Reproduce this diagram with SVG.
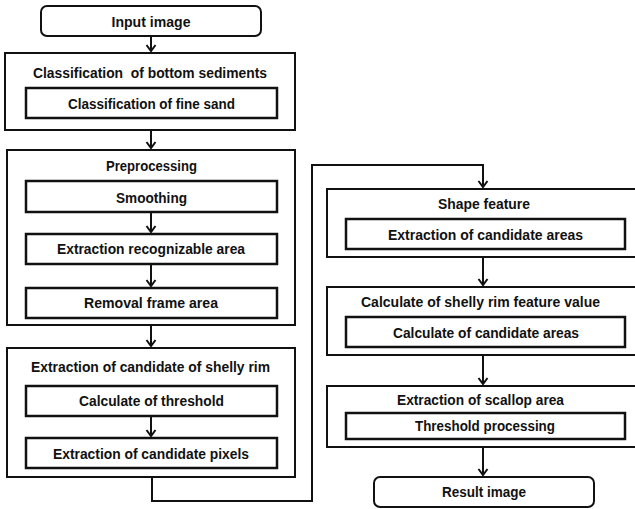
<svg xmlns="http://www.w3.org/2000/svg" width="635" height="509" viewBox="0 0 635 509">
<style>
.box{fill:#fff;stroke:#111;stroke-width:2}
.inner{fill:#fff;stroke:#111;stroke-width:2.5}
.t{font-family:"Liberation Sans",Arial,sans-serif;font-weight:bold;font-size:14.5px;fill:#111;text-anchor:middle}
.ln{fill:none;stroke:#111;stroke-width:2}
</style>
<defs>
<marker id="ah" markerWidth="12" markerHeight="12" refX="9" refY="6" orient="auto" markerUnits="userSpaceOnUse" viewBox="0 0 12 12">
<path d="M3,1.5 L9,6 L3,10.5" fill="none" stroke="#111" stroke-width="2"/>
</marker>
</defs>
<g id="input">
<rect class="box" x="41" y="6" width="220" height="30" rx="6"/>
<text class="t" x="151" y="27" textLength="79" lengthAdjust="spacingAndGlyphs">Input image</text>
</g>
<g id="classification">
<rect class="box" x="5" y="53" width="290" height="77"/>
<text class="t" x="150" y="78" textLength="234" lengthAdjust="spacingAndGlyphs" xml:space="preserve">Classification  of bottom sediments</text>
<rect class="inner" x="26" y="88" width="251" height="30"/>
<text class="t" x="151.5" y="109" textLength="167" lengthAdjust="spacingAndGlyphs">Classification of fine sand</text>
</g>
<g id="preprocessing">
<rect class="box" x="7" y="150" width="288" height="175"/>
<text class="t" x="151.5" y="171" textLength="91" lengthAdjust="spacingAndGlyphs">Preprocessing</text>
<rect class="inner" x="26" y="181" width="251" height="31"/>
<text class="t" x="151.5" y="203" textLength="71" lengthAdjust="spacingAndGlyphs">Smoothing</text>
<rect class="inner" x="26" y="234" width="251" height="30"/>
<text class="t" x="151" y="254" textLength="188" lengthAdjust="spacingAndGlyphs">Extraction recognizable area</text>
<rect class="inner" x="26" y="288" width="251" height="30"/>
<text class="t" x="151" y="308" textLength="134" lengthAdjust="spacingAndGlyphs">Removal frame area</text>
</g>
<g id="extraction-candidate">
<rect class="box" x="7" y="348" width="288" height="129"/>
<text class="t" x="150.5" y="372" textLength="239" lengthAdjust="spacingAndGlyphs">Extraction of candidate of shelly rim</text>
<rect class="inner" x="26" y="386" width="251" height="30"/>
<text class="t" x="151.5" y="406" textLength="145" lengthAdjust="spacingAndGlyphs">Calculate of threshold</text>
<rect class="inner" x="26" y="438" width="251" height="30"/>
<text class="t" x="151" y="459" textLength="196" lengthAdjust="spacingAndGlyphs">Extraction of candidate pixels</text>
</g>
<g id="shape-feature">
<rect class="box" x="327" y="189" width="320" height="68"/>
<text class="t" x="484" y="209" textLength="92" lengthAdjust="spacingAndGlyphs">Shape feature</text>
<rect class="inner" x="346" y="219" width="279" height="30"/>
<text class="t" x="485.5" y="240" textLength="195" lengthAdjust="spacingAndGlyphs">Extraction of candidate areas</text>
</g>
<g id="shelly-rim-feature">
<rect class="box" x="327" y="287" width="320" height="68"/>
<text class="t" x="480.5" y="307" textLength="239" lengthAdjust="spacingAndGlyphs">Calculate of shelly rim feature value</text>
<rect class="inner" x="346" y="317" width="279" height="30"/>
<text class="t" x="486" y="338" textLength="186" lengthAdjust="spacingAndGlyphs">Calculate of candidate areas</text>
</g>
<g id="scallop-area">
<rect class="box" x="327" y="386" width="320" height="61"/>
<text class="t" x="480.5" y="405" textLength="167" lengthAdjust="spacingAndGlyphs">Extraction of scallop area</text>
<rect class="inner" x="346" y="413" width="279" height="26"/>
<text class="t" x="485" y="431" textLength="140" lengthAdjust="spacingAndGlyphs">Threshold processing</text>
</g>
<g id="result">
<rect class="box" x="374" y="477" width="220" height="30" rx="6"/>
<text class="t" x="484" y="497" textLength="84" lengthAdjust="spacingAndGlyphs">Result image</text>
</g>
<g id="connectors">
<line class="ln" x1="151" y1="37" x2="151" y2="51" marker-end="url(#ah)"/>
<line class="ln" x1="151" y1="131" x2="151" y2="148" marker-end="url(#ah)"/>
<line class="ln" x1="151" y1="213" x2="151" y2="232" marker-end="url(#ah)"/>
<line class="ln" x1="151" y1="265" x2="151" y2="286" marker-end="url(#ah)"/>
<line class="ln" x1="151" y1="326" x2="151" y2="346" marker-end="url(#ah)"/>
<line class="ln" x1="151" y1="417" x2="151" y2="436" marker-end="url(#ah)"/>
<polyline class="ln" points="152,478 152,501 312,501 312,165 483,165 483,187" marker-end="url(#ah)"/>
<line class="ln" x1="483" y1="258" x2="483" y2="285" marker-end="url(#ah)"/>
<line class="ln" x1="483" y1="356" x2="483" y2="384" marker-end="url(#ah)"/>
<line class="ln" x1="483" y1="448" x2="483" y2="475" marker-end="url(#ah)"/>
</g>
</svg>
